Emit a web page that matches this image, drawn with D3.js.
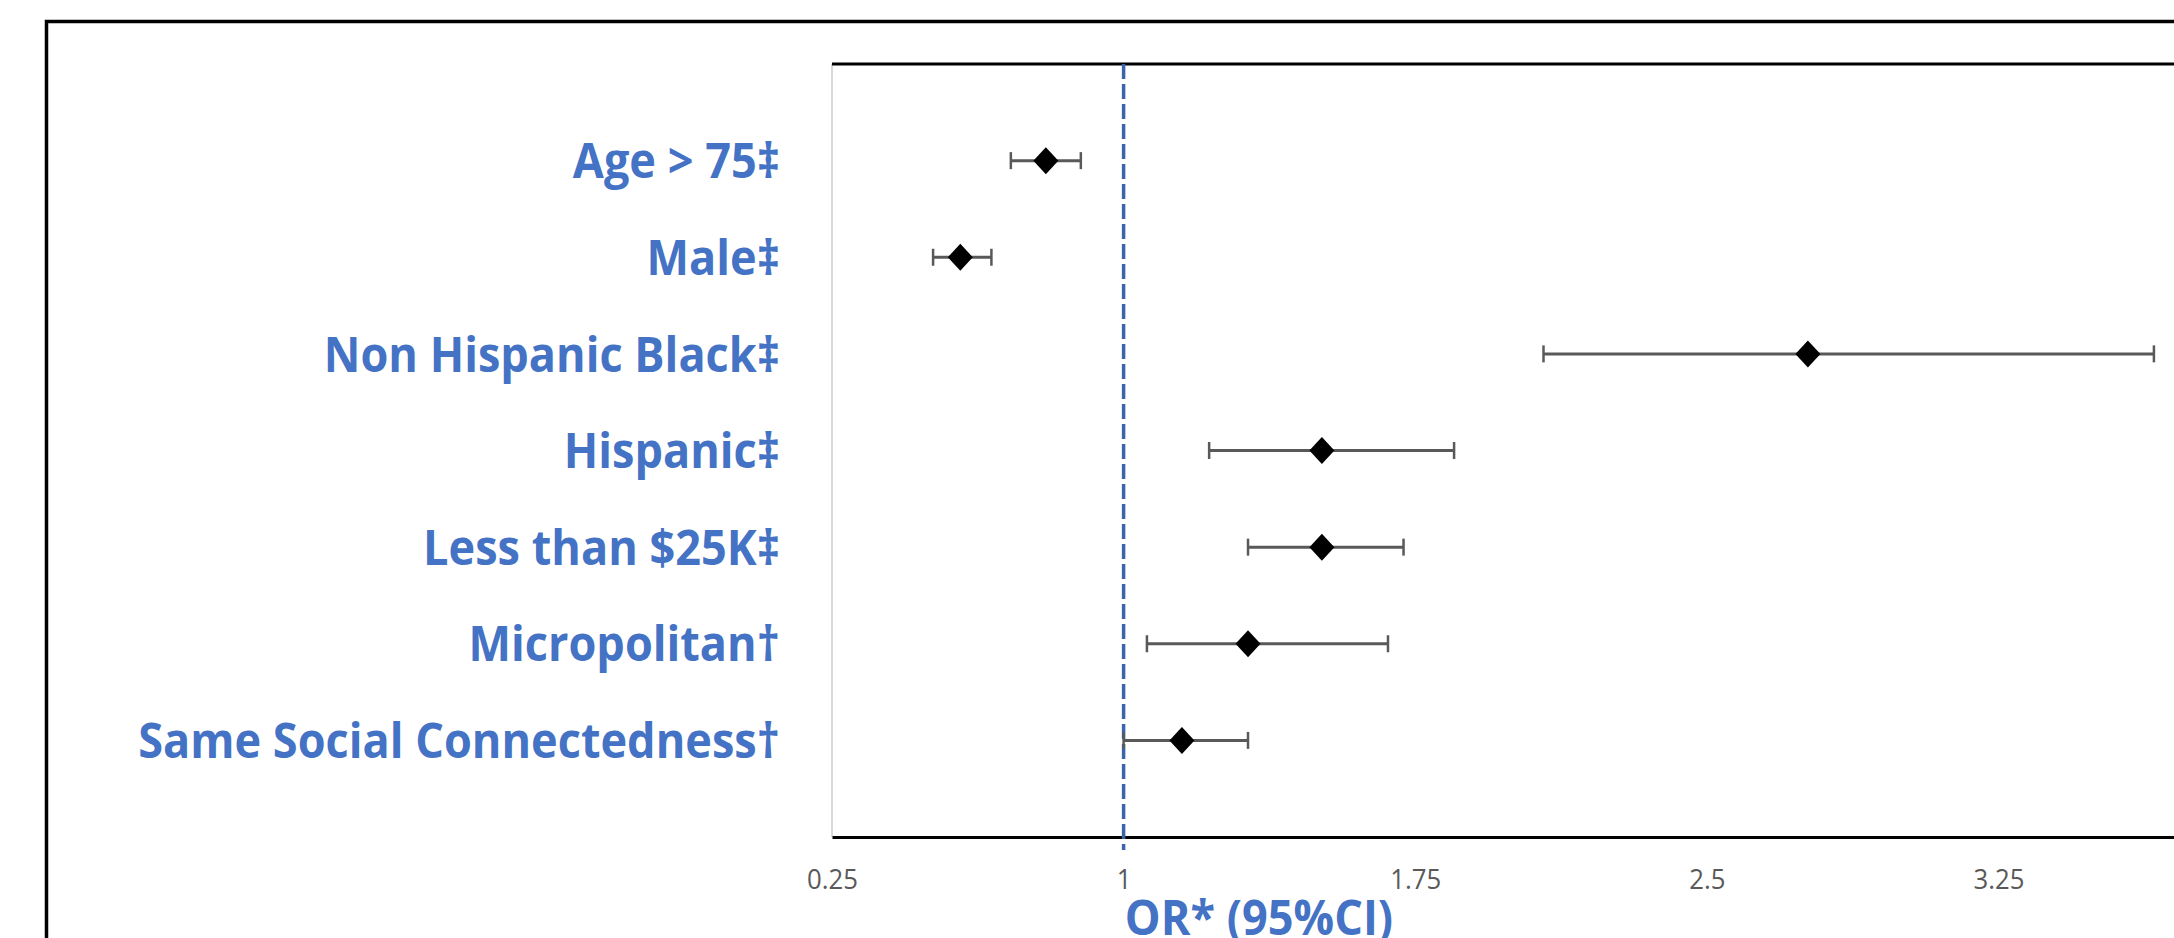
<!DOCTYPE html>
<html>
<head>
<meta charset="utf-8">
<script src="https://cdn.jsdelivr.net/npm/d3@7"></script>
<style>
  body { margin: 0; background: #fff; overflow: hidden; }
  svg { display: block; }
</style>
</head>
<body>
<div id="chart"></div>
<script>
// data
var categories = ["Age > 75\u2021", "Male\u2021", "Non Hispanic Black\u2021", "Hispanic\u2021",
                  "Less than $25K\u2021", "Micropolitan\u2020", "Same Social Connectedness\u2020"];
var orValues = [0.80, 0.58, 2.76, 1.51, 1.51, 1.32, 1.15];
var ciLower  = [0.71, 0.51, 2.08, 1.22, 1.32, 1.06, 1.00];
var ciUpper  = [0.89, 0.66, 3.65, 1.85, 1.72, 1.68, 1.32];
var tickValues = [0.25, 1, 1.75, 2.5, 3.25];
var refValue = 1;
var axisTitle = "OR* (95%CI)";

var rows = categories.map(function(c, i) {
  return { name: c, or: orValues[i], lo: ciLower[i], hi: ciUpper[i], pos: i + 1 };
});

// set the dimensions and margins of the graph
var margin = {top: 64, left: 832},
    width = 1458,
    height = 773;

var svg = d3.select("#chart")
  .append("svg")
    .attr("width", 2174)
    .attr("height", 938);

var blue = "#4472C4",
    textScale = 0.92;

// outer frame (cropped picture border)
svg.append("rect")
  .attr("x", 46.5).attr("y", 21.5)
  .attr("width", 2400).attr("height", 1200)
  .attr("fill", "none")
  .attr("stroke", "#000")
  .attr("stroke-width", 3.5);

var g = svg.append("g")
  .attr("transform", "translate(" + margin.left + "," + margin.top + ")");

var x = d3.scaleLinear()
  .domain([0.25, 4])
  .range([0, width]);

var y = d3.scaleLinear()
  .domain([0, categories.length + 1])
  .range([0, height]);

// plot area borders
g.append("line")
  .attr("x1", 0).attr("x2", 0)
  .attr("y1", 0).attr("y2", height)
  .attr("stroke", "#d9d9d9")
  .attr("stroke-width", 2);

g.append("line")
  .attr("x1", 0).attr("x2", width)
  .attr("y1", 0).attr("y2", 0)
  .attr("stroke", "#000")
  .attr("stroke-width", 3);

// X axis
var xAxis = g.append("g")
  .attr("transform", "translate(0," + height + ")")
  .call(d3.axisBottom(x)
    .tickValues(tickValues)
    .tickSize(0)
    .tickPadding(32)
    .tickFormat(function(d) { return d; }));

xAxis.select(".domain")
  .attr("stroke", "#000")
  .attr("stroke-width", 3);

xAxis.selectAll("text")
  .attr("fill", "#595959")
  .style("font-family", "'Open Sans', 'Liberation Sans', sans-serif")
  .style("font-size", "28px")
  .attr("transform", "scale(0.92,1)");

// reference line at OR = 1
g.append("line")
  .attr("x1", x(refValue)).attr("x2", x(refValue))
  .attr("y1", 0).attr("y2", height + 13)
  .attr("stroke", "#3b64ad")
  .attr("stroke-width", 3.5)
  .attr("stroke-dasharray", "15,5");

// error bars
var bars = g.append("g").selectAll("g")
  .data(rows)
  .enter()
  .append("g");

bars.append("line")
  .attr("x1", function(d) { return x(d.lo); })
  .attr("x2", function(d) { return x(d.hi); })
  .attr("y1", function(d) { return y(d.pos); })
  .attr("y2", function(d) { return y(d.pos); })
  .attr("stroke", "#595959")
  .attr("stroke-width", 3);

["lo", "hi"].forEach(function(k) {
  bars.append("line")
    .attr("x1", function(d) { return x(d[k]); })
    .attr("x2", function(d) { return x(d[k]); })
    .attr("y1", function(d) { return y(d.pos) - 8.5; })
    .attr("y2", function(d) { return y(d.pos) + 8.5; })
    .attr("stroke", "#595959")
    .attr("stroke-width", 2.5);
});

// diamonds
bars.append("path")
  .attr("d", "M0,-13.5L12.5,0L0,13.5L-12.5,0Z")
  .attr("transform", function(d) { return "translate(" + x(d.or) + "," + y(d.pos) + ")"; })
  .attr("fill", "#000");

// category labels
svg.append("g").selectAll("text")
  .data(rows)
  .enter()
  .append("text")
    .attr("transform", function(d) {
      return "translate(780," + (margin.top + y(d.pos)) + ") scale(" + textScale + ",1)";
    })
    .attr("text-anchor", "end")
    .attr("dy", "0.36em")
    .attr("fill", blue)
    .style("font-family", "'Open Sans', sans-serif")
    .style("font-weight", "bold")
    .style("font-size", "49px")
    .text(function(d) { return d.name; });

// axis title
svg.append("text")
  .attr("transform", "translate(1259,935) scale(" + textScale + ",1)")
  .attr("text-anchor", "middle")
  .attr("fill", blue)
  .style("font-family", "'Open Sans', sans-serif")
  .style("font-weight", "bold")
  .style("font-size", "49px")
  .text(axisTitle);
</script>
</body>
</html>
